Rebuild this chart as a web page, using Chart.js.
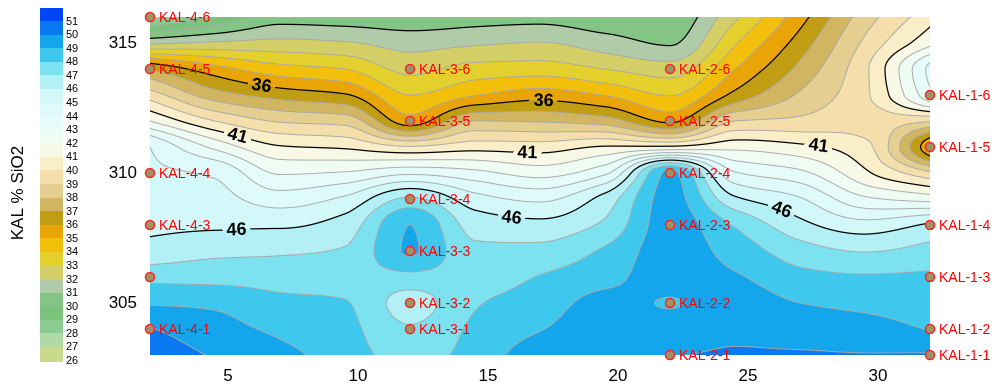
<!DOCTYPE html>
<html>
<head>
<meta charset="utf-8">
<script src="https://cdn.jsdelivr.net/npm/chart.js@4/dist/chart.umd.min.js"></script>
<style>
  html, body { margin: 0; padding: 0; background: #ffffff; }
  canvas { display: block; }
</style>
</head>
<body>
<canvas id="chart" width="995" height="388"></canvas>
<script>
// Grid nodes: distance along section (x) and elevation (y)
const gridX = [2, 4.5, 7, 9.5, 12, 14.5, 17, 19.5, 22, 24.5, 27, 29.5, 32];
const gridY = [316, 315, 314, 313, 312, 311, 310, 309, 308, 307, 306, 305, 304, 303];

// KAL % SiO2 on the grid, one row per elevation (values in gridX order)
const sio2_316 = [27.6, 29.0, 30.5, 30.4, 30.3, 30.5, 30.6, 30.3, 30.3, 32.8, 35.6, 38.5, 40.6];
const sio2_315 = [31.8, 32.15, 32.3, 32.1, 31.6, 31.85, 32.05, 31.45, 30.9, 33.9, 36.45, 39.2, 41.75];
const sio2_314 = [36.9, 35.4, 34.4, 34.0, 32.7, 33.4, 33.5, 33.0, 32.5, 35.0, 37.27, 39.8, 44.3];
const sio2_313 = [39.5, 37.45, 36.6, 36.1, 34.0, 34.95, 35.55, 34.95, 33.95, 36.3, 38.15, 39.8, 43.7];
const sio2_312 = [42.0, 40.0, 38.9, 38.6, 35.45, 38.0, 37.9, 37.5, 35.8, 39.0, 39.25, 39.6, 39.1];
const sio2_311 = [45.0, 42.75, 41.1, 40.85, 40.1, 40.6, 40.5, 41.1, 41.2, 41.7, 41.25, 40.3, 35.2];
const sio2_310 = [45.2, 44.85, 42.9, 43.1, 43.8, 43.3, 42.6, 43.8, 49.2, 44.1, 43.25, 41.2, 39.2];
const sio2_309 = [45.5, 45.35, 44.5, 45.2, 47.2, 45.4, 44.8, 46.4, 49.4, 46.2, 45.1, 43.2, 42.6];
const sio2_308 = [45.8, 45.85, 45.85, 46.45, 49.0, 46.6, 46.3, 47.2, 49.5, 47.9, 46.3, 45.4, 46.15];
const sio2_307 = [46.35, 46.75, 46.85, 47.1, 49.1, 47.2, 47.3, 48.15, 49.5, 48.6, 47.45, 46.95, 47.35];
const sio2_306 = [47.7, 47.65, 47.6, 47.6, 47.7, 47.55, 48.05, 48.7, 49.4, 49.1, 48.3, 48.1, 48.15];
const sio2_305 = [48.9, 48.8, 48.25, 48.05, 46.6, 47.9, 48.5, 49.3, 48.95, 49.5, 49.0, 48.75, 48.55];
const sio2_304 = [50.05, 49.4, 48.8, 48.3, 47.1, 48.2, 48.95, 49.55, 49.5, 49.8, 49.6, 49.4, 48.95];
const sio2_303 = [50.6, 49.9, 49.3, 48.5, 47.6, 48.4, 49.55, 49.8, 49.95, 50.1, 50.1, 50.05, 50.1];

// Sample locations
const sampleX = [2, 2, 2, 2, 2, 2, 12, 12, 12, 12, 12, 12, 22, 22, 22, 22, 22, 22, 32, 32, 32, 32, 32, 32];
const sampleY = [316, 314, 310, 308, 306, 304, 314, 312, 309, 307, 305, 304, 314, 312, 310, 308, 305, 303, 313, 311, 308, 306, 304, 303];
const sampleNames = ['KAL-4-6', 'KAL-4-5', 'KAL-4-4', 'KAL-4-3', '', 'KAL-4-1',
  'KAL-3-6', 'KAL-3-5', 'KAL-3-4', 'KAL-3-3', 'KAL-3-2', 'KAL-3-1',
  'KAL-2-6', 'KAL-2-5', 'KAL-2-4', 'KAL-2-3', 'KAL-2-2', 'KAL-2-1',
  'KAL-1-6', 'KAL-1-5', 'KAL-1-4', 'KAL-1-3', 'KAL-1-2', 'KAL-1-1'];

// Axis ticks
const xTicks = [5, 10, 15, 20, 25, 30];
const yTicks = [305, 310, 315];

// Contour levels (lower bound of each colour band) and band colours
const bandLevels = [26, 27, 28, 29, 30, 31, 32, 33, 34, 35, 36, 37, 38, 39, 40, 41, 42, 43, 44, 45, 46, 47, 48, 49, 50, 51];
const bandColors = ['#cbd98c', '#b0d9a8', '#8acb92', '#7bc37c', '#84c585', '#afcba8', '#d3cf66', '#e4d02c',
  '#f2bf0a', '#e9a508', '#c19d14', '#d1b560', '#e4ce90', '#f4dfaa', '#faeec8', '#f8f8e6',
  '#effcf3', '#e6fcfb', '#defafb', '#d2f8fa', '#b3f0f5', '#7de2f0', '#3fc8ee', '#13a6ec',
  '#0a78f0', '#0046f6'];
const majorLevels = [31, 36, 41, 46, 51];

// Inline contour labels
const labelLevels = [36, 41, 36, 41, 41, 46, 46, 46];
const labelX = [6.25, 5.3, 17.1, 16.5, 27.65, 5.3, 15.9, 26.1];
const labelY = [313.35, 311.4, 312.8, 310.7, 310.95, 307.9, 308.2, 308.3];

const zGrid = [sio2_316, sio2_315, sio2_314, sio2_313, sio2_312, sio2_311, sio2_310,
  sio2_309, sio2_308, sio2_307, sio2_306, sio2_305, sio2_304, sio2_303];

const FONT = '"Liberation Sans", Arial, Helvetica, sans-serif';

function hexRgb(h) {
  return [parseInt(h.slice(1, 3), 16), parseInt(h.slice(3, 5), 16), parseInt(h.slice(5, 7), 16)];
}
const bandRgb = bandColors.map(hexRgb);

// grid node with linear extrapolation past the edges
function node(r, c) {
  const R = zGrid.length, C = gridX.length;
  if (r < 0) return 2 * node(0, c) - node(1, c);
  if (r >= R) return 2 * node(R - 1, c) - node(R - 2, c);
  if (c < 0) return 2 * node(r, 0) - node(r, 1);
  if (c >= C) return 2 * node(r, C - 1) - node(r, C - 2);
  return zGrid[r][c];
}
// monotone (shape-preserving) cubic between p1 and p2
function slope(a, b) { return a * b > 0 ? 2 * a * b / (a + b) : 0; }
function mono(p0, p1, p2, p3, t) {
  const d0 = p1 - p0, d1 = p2 - p1, d2 = p3 - p2;
  const m1 = slope(d0, d1), m2 = slope(d1, d2);
  const t2 = t * t, t3 = t2 * t;
  return (2 * t3 - 3 * t2 + 1) * p1 + (t3 - 2 * t2 + t) * m1 + (-2 * t3 + 3 * t2) * p2 + (t3 - t2) * m2;
}
function fieldAt(xv, yv) {
  let fx = (xv - gridX[0]) / (gridX[1] - gridX[0]);
  let fy = (gridY[0] - yv) / (gridY[0] - gridY[1]);
  fx = Math.min(Math.max(fx, 0), gridX.length - 1 - 1e-9);
  fy = Math.min(Math.max(fy, 0), gridY.length - 1 - 1e-9);
  const c = Math.floor(fx), r = Math.floor(fy);
  const tx = fx - c, ty = fy - r;
  const rows = [];
  for (let k = -1; k <= 2; k++) {
    rows.push(mono(node(r + k, c - 1), node(r + k, c), node(r + k, c + 1), node(r + k, c + 2), tx));
  }
  return mono(rows[0], rows[1], rows[2], rows[3], ty);
}
function bandIndex(v) {
  let k = Math.floor(v) - bandLevels[0];
  return Math.min(Math.max(k, 0), bandLevels.length - 1);
}

const contourPlugin = {
  id: 'contourField',
  beforeDatasetsDraw(chart) {
    const { ctx, chartArea, scales } = chart;
    const xs = scales.x, ys = scales.y;
    const L0 = chartArea.left, T0 = chartArea.top;
    const W = Math.round(chartArea.right - chartArea.left);
    const H = Math.round(chartArea.bottom - chartArea.top);
    const xv = new Float64Array(W), yv = new Float64Array(H);
    for (let i = 0; i < W; i++) xv[i] = xs.getValueForPixel(L0 + i + 0.5);
    for (let j = 0; j < H; j++) yv[j] = ys.getValueForPixel(T0 + j + 0.5);
    const F = new Float32Array(W * H);
    for (let j = 0; j < H; j++) for (let i = 0; i < W; i++) F[j * W + i] = fieldAt(xv[i], yv[j]);

    const grad = (i, j) => {
      const i0 = Math.max(i - 1, 0), i1 = Math.min(i + 1, W - 1);
      const j0 = Math.max(j - 1, 0), j1 = Math.min(j + 1, H - 1);
      return [(F[j * W + i1] - F[j * W + i0]) / (i1 - i0), (F[j1 * W + i] - F[j0 * W + i]) / (j1 - j0)];
    };

    // label placement: snap onto the contour, orient along it
    ctx.save();
    ctx.font = 'bold 18px ' + FONT;
    const labels = labelLevels.map((lev, k) => {
      let ci = Math.round(xs.getPixelForValue(labelX[k]) - L0);
      let cj = Math.round(ys.getPixelForValue(labelY[k]) - T0);
      let [gx, gy] = grad(ci, cj);
      let gn = Math.hypot(gx, gy) || 1;
      let best = 1e9, bi = ci, bj = cj;
      for (let s = -20; s <= 20; s += 0.5) {
        const ii = Math.round(ci + gx / gn * s), jj = Math.round(cj + gy / gn * s);
        if (ii < 0 || jj < 0 || ii >= W || jj >= H) continue;
        const d = Math.abs(F[jj * W + ii] - lev);
        if (d < best) { best = d; bi = ii; bj = jj; }
      }
      [gx, gy] = grad(bi, bj);
      let ang = Math.atan2(-gx, gy);
      if (ang > Math.PI / 2) ang -= Math.PI;
      if (ang < -Math.PI / 2) ang += Math.PI;
      const tw = ctx.measureText(String(lev)).width;
      return { lev, ci: bi, cj: bj, ang, cos: Math.cos(ang), sin: Math.sin(ang), hw: tw / 2 + 4, hh: 9 };
    });
    ctx.restore();

    const off = document.createElement('canvas');
    off.width = W; off.height = H;
    const octx = off.getContext('2d');
    const img = octx.createImageData(W, H);
    const px = img.data;
    const grayLine = [168, 168, 168];
    for (let j = 0; j < H; j++) {
      for (let i = 0; i < W; i++) {
        const idx = j * W + i;
        const v = F[idx];
        const base = bandRgb[bandIndex(v)];
        let r = base[0], g = base[1], b = base[2];
        const L = Math.round(v);
        if (L > bandLevels[0] && L <= bandLevels[bandLevels.length - 1]) {
          const [gx, gy] = grad(i, j);
          const gn = Math.hypot(gx, gy) + 1e-6;
          const d = Math.abs(v - L) / gn;
          const major = majorLevels.indexOf(L) >= 0;
          const w = major ? 1.25 : 1.0;
          let a = Math.min(Math.max(w / 2 + 0.5 - d, 0), 1);
          if (a > 0 && major) {
            for (const lb of labels) {
              if (lb.lev !== L) continue;
              const dx = i - lb.ci, dy = j - lb.cj;
              const u = dx * lb.cos + dy * lb.sin, q = -dx * lb.sin + dy * lb.cos;
              if (Math.abs(u) < lb.hw && Math.abs(q) < lb.hh) { a = 0; break; }
            }
          }
          if (a > 0) {
            const lc = major ? [0, 0, 0] : grayLine;
            const aa = major ? a : a * 0.95;
            r = r * (1 - aa) + lc[0] * aa;
            g = g * (1 - aa) + lc[1] * aa;
            b = b * (1 - aa) + lc[2] * aa;
          }
        }
        const o = idx * 4;
        px[o] = r; px[o + 1] = g; px[o + 2] = b; px[o + 3] = 255;
      }
    }
    octx.putImageData(img, 0, 0);
    ctx.save();
    ctx.drawImage(off, L0, T0, W, H);
    // contour labels
    ctx.fillStyle = '#000000';
    ctx.font = 'bold 18px ' + FONT;
    ctx.textAlign = 'center';
    ctx.textBaseline = 'middle';
    for (const lb of labels) {
      ctx.save();
      ctx.translate(L0 + lb.ci + 0.5, T0 + lb.cj + 1);
      ctx.rotate(lb.ang);
      ctx.fillText(String(lb.lev), 0, 0);
      ctx.restore();
    }
    ctx.restore();
  },
  afterDatasetsDraw(chart) {
    const { ctx } = chart;
    const meta = chart.getDatasetMeta(0);
    ctx.save();
    ctx.font = '14px ' + FONT;
    ctx.fillStyle = '#ff0000';
    ctx.textAlign = 'left';
    ctx.textBaseline = 'middle';
    meta.data.forEach((pt, k) => {
      if (sampleNames[k]) ctx.fillText(sampleNames[k], pt.x + 9, pt.y + 1);
    });
    ctx.restore();
  },
  afterDraw(chart) {
    const { ctx } = chart;
    // colour bar
    const cbLeft = 40, cbRight = 63, cbTop = 8, cbBottom = 361;
    const n = bandLevels.length;
    const h = (cbBottom - cbTop) / n;
    ctx.save();
    for (let k = 0; k < n; k++) {
      ctx.fillStyle = bandColors[n - 1 - k];
      ctx.fillRect(cbLeft, Math.floor(cbTop + k * h), cbRight - cbLeft, Math.ceil(h) + 1);
    }
    ctx.fillStyle = '#000000';
    ctx.font = '11px ' + FONT;
    ctx.textAlign = 'left';
    ctx.textBaseline = 'middle';
    for (let k = 0; k < n; k++) {
      const level = bandLevels[n - 1 - k];
      ctx.fillText(String(level), cbRight + 3, cbTop + (k + 1) * h);
    }
    // colour bar title
    ctx.font = '17px ' + FONT;
    ctx.textAlign = 'center';
    ctx.translate(18, 193);
    ctx.rotate(-Math.PI / 2);
    ctx.fillText('KAL % SiO2', 0, 0);
    ctx.restore();
  }
};

Chart.defaults.font.family = FONT;
Chart.defaults.color = '#000000';

new Chart(document.getElementById('chart'), {
  type: 'scatter',
  data: {
    datasets: [{
      data: sampleX.map((x, k) => ({ x, y: sampleY[k] })),
      pointRadius: 4.5,
      pointHoverRadius: 4.5,
      pointBackgroundColor: '#9c9466',
      pointBorderColor: '#ff2020',
      pointBorderWidth: 1.5,
      clip: false
    }]
  },
  options: {
    responsive: false,
    animation: false,
    events: [],
    layout: { padding: { left: 0, right: 65, top: 17, bottom: 0 } },
    plugins: { legend: { display: false }, tooltip: { enabled: false } },
    scales: {
      x: {
        type: 'linear', min: 2, max: 32,
        grid: { display: false, drawTicks: false },
        border: { display: false },
        ticks: { font: { size: 17 }, color: '#000', padding: 11 },
        afterBuildTicks(s) { s.ticks = xTicks.map(v => ({ value: v })); },
        afterFit(s) { s.height = 33; s.paddingLeft = 0; s.paddingRight = 0; }
      },
      y: {
        type: 'linear', min: 303, max: 316,
        grid: { display: false, drawTicks: false },
        border: { display: false },
        ticks: { font: { size: 17 }, color: '#000', padding: 13 },
        afterBuildTicks(s) { s.ticks = yTicks.map(v => ({ value: v })); },
        afterFit(s) { s.width = 150; s.paddingTop = 0; s.paddingBottom = 0; }
      }
    }
  },
  plugins: [contourPlugin]
});
</script>
</body>
</html>
